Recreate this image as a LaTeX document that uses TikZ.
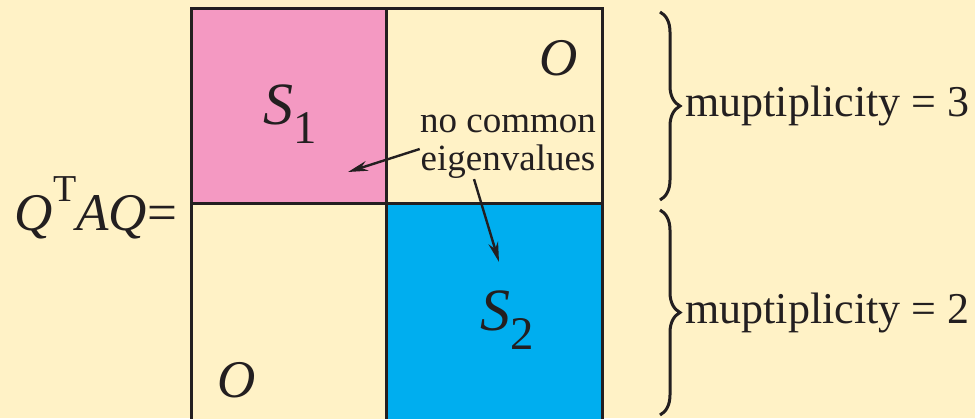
\documentclass[tikz,border=0pt]{standalone}
\usepackage{fontspec}
\setmainfont{Liberation Serif}
\newfontfamily\timesfam{Liberation Serif}
\definecolor{blkpink}{RGB}{244,153,194}
\definecolor{blkcyan}{RGB}{0,174,239}
\definecolor{bgcream}{RGB}{255,242,198}
\definecolor{inkgray}{RGB}{35,31,32}
\usetikzlibrary{positioning,arrows.meta,decorations.pathreplacing}
\newcommand{\blkname}[2]{\textit{#1}\raisebox{-0.32em}{\fontsize{0.78em}{1em}\selectfont #2}}

\begin{document}
\begin{tikzpicture}[x=0.5pt,y=-0.5pt,
    blk/.style={rectangle,draw=inkgray,line width=1.5pt,inner sep=0pt,outer sep=0pt},
    big/.style={font=\timesfam\fontsize{30}{32}\selectfont,text=inkgray},
    zero/.style={font=\timesfam\fontsize{26.5}{28}\selectfont\itshape,text=inkgray},
    note/.style={font=\timesfam\fontsize{18.5}{19}\selectfont,align=center,text=inkgray,inner sep=0pt},
    ptr/.style={draw=inkgray,line width=1.2pt,-{Stealth[length=10pt,width=5pt]}},
    brc/.style={draw=inkgray,line width=1.5pt,decorate,decoration={brace,amplitude=10pt}}]
    \path[use as bounding box,fill=bgcream] (0,0) rectangle (975,418);
    % the four blocks
    \node[blk,fill=blkpink,minimum width=97.5pt,minimum height=97.5pt,anchor=north west] (s1) at (191,8) {};
    \node[blk,fill=bgcream,minimum width=108pt,minimum height=97.5pt,right=0pt of s1] (o1) {};
    \node[blk,fill=bgcream,minimum width=97.5pt,minimum height=111pt,below=0pt of s1] (o2) {};
    \node[blk,fill=blkcyan,minimum width=108pt,minimum height=111pt,below=0pt of o1] (s2) {};
    \node[big] (ls1) at (290,114) {\blkname{S}{1}};
    \node[big] (ls2) at (507,320) {\blkname{S}{2}};
    \node[zero] (lo1) at (559,58) {O};
    \node[zero] (lo2) at (237,380) {O};
    \node[font=\timesfam\fontsize{26.5}{28}\selectfont,text=inkgray,anchor=east] (lhs) at (184,208)
      {\textit{Q}\raisebox{0.55em}{\fontsize{19}{20}\selectfont T}\textit{AQ}=};
    % note and arrows
    \node[note] (nce) at (508,147) {no common\\eigenvalues};
    \coordinate (t1) at (348,172);
    \coordinate (t2) at (499,262);
    \draw[ptr] ([yshift=-1pt]nce.west) -- (t1);
    \draw[ptr] ([xshift=-17pt]nce.south) -- (t2);
    % braces
    \draw[brc] (660,12) -- (660,200) node[midway,right=12pt,inner sep=0pt,font=\timesfam\fontsize{22}{24}\selectfont,text=inkgray] (m3) {muptiplicity = 3};
    \draw[brc] (660,210) -- (660,415) node[midway,right=12pt,inner sep=0pt,font=\timesfam\fontsize{22}{24}\selectfont,text=inkgray] (m2) {muptiplicity = 2};
  \end{tikzpicture}
\end{document}
